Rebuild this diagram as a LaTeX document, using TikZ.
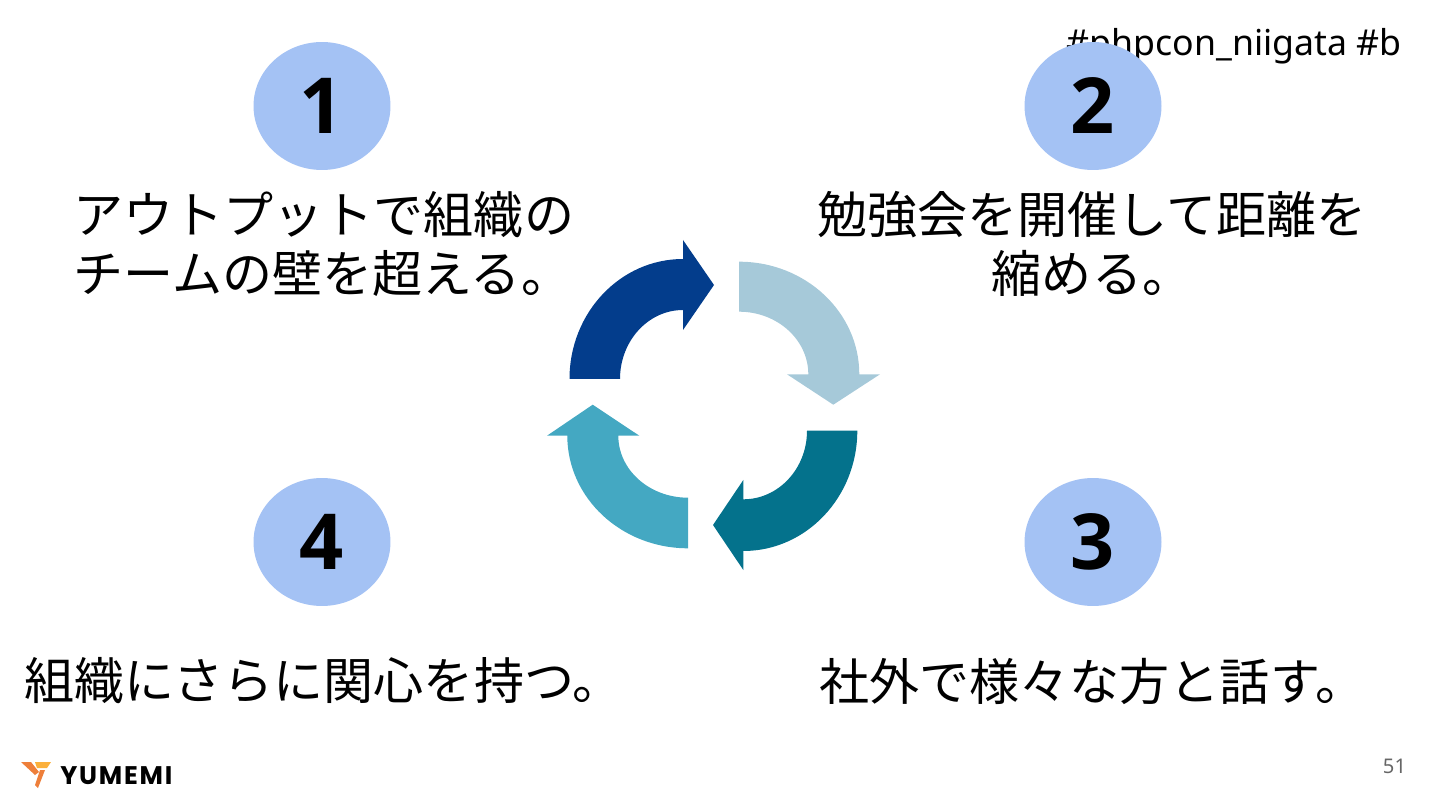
\documentclass[tikz,border=0pt]{standalone}
\usepackage{fontspec}
\setmainfont{Noto Sans}
\newfontfamily\jpfont{Noto Sans CJK JP}
\newfontfamily\digitfont{Open Sans}
\newfontfamily\logofont[LetterSpace=7]{Poppins}
\usetikzlibrary{shapes.geometric}
\definecolor{badgeBlue}{HTML}{A4C2F4}
\definecolor{cycleNavy}{HTML}{033D8C}
\definecolor{cycleIce}{HTML}{A6C9D9}
\definecolor{cycleTeal}{HTML}{04728C}
\definecolor{cycleSea}{HTML}{44A8C2}
\definecolor{pageGray}{HTML}{666666}
\definecolor{logoOrange}{HTML}{EE7F3A}
\definecolor{logoYellow}{HTML}{FBB03B}

\begin{document}
\begin{tikzpicture}[
    x=0.02cm, y=-0.02cm,
    badge/.style={ellipse, fill=badgeBlue, minimum width=2.74cm, minimum height=2.56cm, inner sep=0pt,
        font=\fontsize{44}{44}\selectfont\digitfont\bfseries},
    talk/.style={inner sep=0pt, align=left, font=\fontsize{28.5}{33.5}\selectfont\jpfont},
    tagline/.style={inner sep=0pt, font=\fontsize{20.3}{24}\selectfont},
    cycle/.style={draw=none},
]
\useasboundingbox (0,0) rectangle (1440,810);
\node[tagline, anchor=east] (tags) at (1402,46) {\#phpcon\_niigata \#b};
\node[badge] (one)   at (322,106) {1};
\node[badge] (two)   at (1093,106) {2};
\node[badge] (three) at (1093,542) {3};
\node[badge] (four)  at (322,542) {4};
\node[talk, anchor=west] (oneText)   at (73,244) {アウトプットで組織の\\チームの壁を超える。};
\node[talk, anchor=center, align=center] (twoText) at (1092,244) {勉強会を開催して距離を\\縮める。};
\node[talk, anchor=west] (threeText) at (819,681) {社外で様々な方と話す。};
\node[talk, anchor=west] (fourText)  at (24,681) {組織にさらに関心を持つ。};
% the four arrows of the cycle
\fill[cycle, cycleNavy] (569.5,379) .. controls (569.5,312.7) and (620.3,259) .. (683,259)
    -- (683,240) -- (714,285) -- (683,330) -- (683,310)
    .. controls (648.2,310) and (620,341) .. (620,379) -- cycle;
\fill[cycle, cycleIce] (739,261.7) .. controls (805.4,261.7) and (859.3,312.1) .. (859.3,374.3)
    -- (880,374.3) -- (833.3,404.7) -- (787,374.3) -- (808.3,374.3)
    .. controls (808.3,339.7) and (777.3,311.7) .. (739,311.7) -- cycle;
\fill[cycle, cycleTeal] (857.3,430.7) .. controls (857.3,497.1) and (806.3,551) .. (743.3,551)
    -- (743.3,570) -- (713,525) -- (743.3,480) -- (743.3,499.3)
    .. controls (778.5,499.3) and (807,468.6) .. (807,430.7) -- cycle;
\fill[cycle, cycleSea] (688,548.3) .. controls (621.3,548.3) and (567.3,497.9) .. (567.3,435.7)
    -- (547,435.7) -- (592.7,404.7) -- (639.3,435.7) -- (618.3,435.7)
    .. controls (618.3,470) and (649.5,497.7) .. (688,497.7) -- cycle;
% footer
\fill[logoOrange] (21,762) -- (31,762) -- (39,772) -- (35,775) -- cycle;
\fill[logoYellow] (35,762) -- (51,762) -- (47,768) -- (37,768) -- cycle;
\fill[logoOrange] (40,770) -- (45,770) -- (38,788) -- (35,785) -- cycle;
\node[inner sep=0pt, anchor=west, font=\fontsize{14.5}{16}\selectfont\logofont\bfseries] (logo) at (60,776) {YUMEMI};
\node[inner sep=0pt, text=pageGray, font=\fontsize{11.5}{13}\selectfont] (page) at (1394.5,766) {51};
\end{tikzpicture}
\end{document}
